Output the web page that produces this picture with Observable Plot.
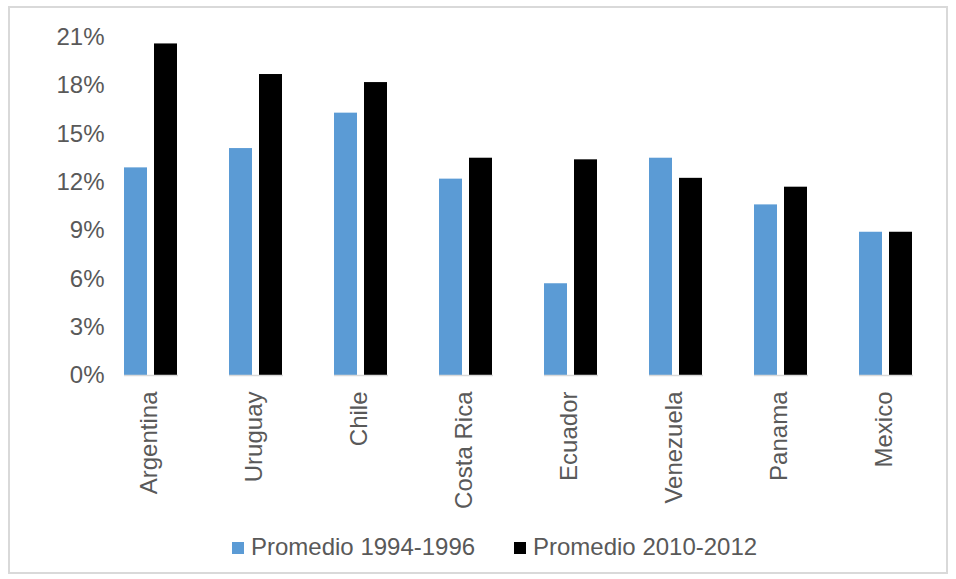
<!DOCTYPE html>
<html>
<head>
<meta charset="utf-8">
<script src="https://cdn.jsdelivr.net/npm/d3@7"></script>
<script src="https://cdn.jsdelivr.net/npm/@observablehq/plot@0.6"></script>
<style>
  html, body { margin: 0; padding: 0; background: #fff; }
  #wrap { position: relative; width: 956px; height: 579px; overflow: hidden; font-family: "Liberation Sans", Arial, sans-serif; }
  #frame { position: absolute; left: 8px; top: 6px; width: 940px; height: 568px; border: 2px solid #d9d9d9; box-sizing: border-box; }
  #chart { position: absolute; left: 0; top: 0; }
  #legend { position: absolute; left: 0; top: 533px; width: 100%; height: 28px; }
  .item { position: absolute; top: 0; display: flex; align-items: center; font-size: 24px; color: #595959; line-height: 28px; white-space: nowrap; }
  .swatch { width: 12px; height: 12px; margin-right: 7px; margin-top: 2px; }
</style>
</head>
<body>
<div id="wrap">
  <div id="frame"></div>
  <div id="chart"></div>
  <div id="legend"></div>
</div>
<script>
// Países y promedios (%) para cada período
const countries = ["Argentina", "Uruguay", "Chile", "Costa Rica", "Ecuador", "Venezuela", "Panama", "Mexico"];
const seriesNames = ["Promedio 1994-1996", "Promedio 2010-2012"];
const promedio1994 = [12.9, 14.1, 16.3, 12.2, 5.7, 13.5, 10.6, 8.9];
const promedio2010 = [20.6, 18.7, 18.2, 13.5, 13.4, 12.25, 11.7, 8.9];
const yTicks = [0, 3, 6, 9, 12, 15, 18, 21];
const seriesColors = ["#5b9bd5", "#000000"];

const rows = countries.flatMap((c, i) => [
  {country: c, serie: seriesNames[0], value: promedio1994[i]},
  {country: c, serie: seriesNames[1], value: promedio2010[i]}
]);

const textColor = "#595959";

const chart = Plot.plot({
  width: 956,
  height: 530,
  marginLeft: 95,
  marginRight: 15,
  marginTop: 37,
  marginBottom: 155,
  style: {fontFamily: "'Liberation Sans', Arial, sans-serif", fontSize: "24px", color: textColor, background: "transparent", overflow: "visible"},
  fx: {domain: countries, paddingInner: 0.49, paddingOuter: 0.245, label: null},
  x: {domain: seriesNames, paddingInner: 0.226, paddingOuter: 0, axis: null},
  y: {domain: [0, 21], label: null},
  color: {domain: seriesNames, range: seriesColors},
  marks: [
    Plot.axisY({ticks: yTicks, tickFormat: d => d + "%", tickSize: 0, tickPadding: 20, fontSize: 24, fill: textColor, label: null}),
    Plot.axisFx({anchor: "bottom", tickRotate: -90, tickSize: 0, tickPadding: 16, fontSize: 24, fill: textColor, label: null, dx: -2}),
    Plot.barY(rows, {fx: "country", x: "serie", y: "value", fill: "serie"}),
    Plot.ruleY([0], {stroke: "#d9d9d9", strokeWidth: 1.5})
  ]
});
document.getElementById("chart").appendChild(chart);

// Leyenda
const legend = document.getElementById("legend");
const legendX = [232, 514];
seriesNames.forEach((name, i) => {
  const item = document.createElement("div");
  item.className = "item";
  item.style.left = legendX[i] + "px";
  const sw = document.createElement("span");
  sw.className = "swatch";
  sw.style.background = seriesColors[i];
  const tx = document.createElement("span");
  tx.textContent = name;
  item.appendChild(sw);
  item.appendChild(tx);
  legend.appendChild(item);
});
</script>
</body>
</html>
